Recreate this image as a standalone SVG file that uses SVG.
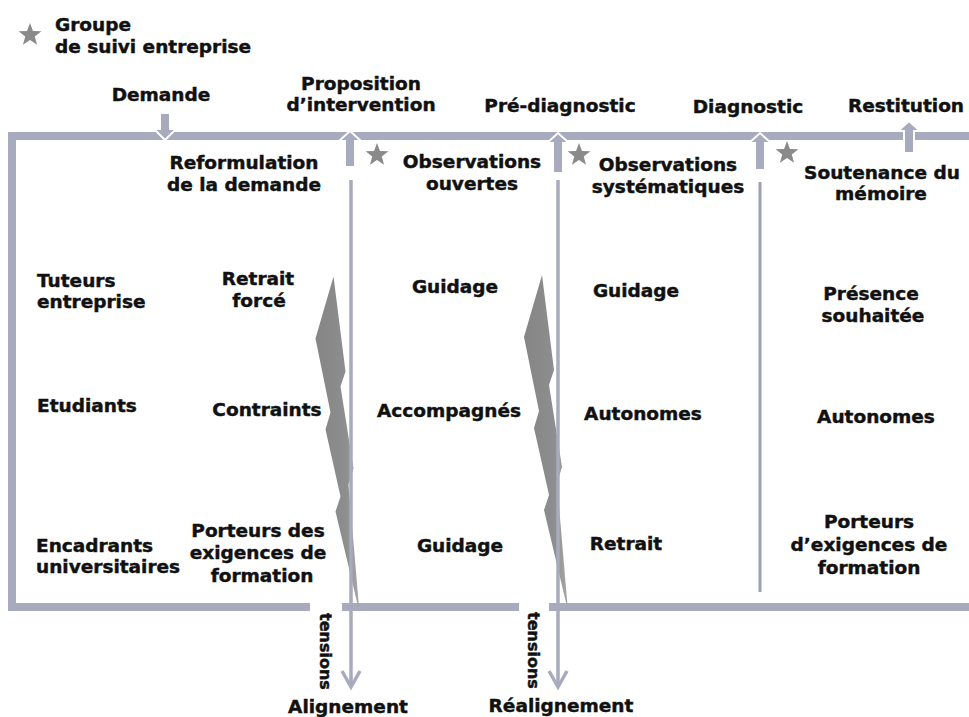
<svg xmlns="http://www.w3.org/2000/svg" xmlns:xlink="http://www.w3.org/1999/xlink" width="969" height="717" viewBox="0 0 969 717">
<style>
  text { font-family: "DejaVu Sans", "Liberation Sans", sans-serif; font-weight: bold; font-size: 18.5px; fill: #111; stroke: #111; stroke-width: 0.45px; }
  .m { text-anchor: middle; }
  .vt { font-size: 16px; }
  .band { fill: #a8aabe; }
  .blk { fill: #a8aabe; stroke: #ffffff; stroke-width: 2; stroke-linejoin: miter; }
  .thin { stroke: #a8aabe; stroke-width: 3.5; fill: none; }
  .chev { stroke: #a8aabe; stroke-width: 3.5; fill: none; stroke-linejoin: miter; }
  .star { fill: #8a8a8a; }
  .bolt { fill: url(#boltGrad); }
</style>
<defs>
  <path id="starShape" d="M0,-12 L2.94,-4.05 L11.41,-3.71 L4.76,1.55 L7.05,9.71 L0,5 L-7.05,9.71 L-4.76,1.55 L-11.41,-3.71 L-2.94,-4.05 Z"/>
  <linearGradient id="boltGrad" x1="0" y1="0" x2="1" y2="0">
    <stop offset="0" stop-color="#858585"/>
    <stop offset="0.7" stop-color="#8e8e8e"/>
    <stop offset="1" stop-color="#a9a9a9"/>
  </linearGradient>
  <polygon id="boltShape" points="542,275 554,370 549,385 562,467 557,483 568,611 544,510 549,495 534,428 539,411 524,337"/>
</defs>
<rect width="969" height="717" fill="#ffffff"/>

<g id="legend">
  <use href="#starShape" xlink:href="#starShape" class="star" transform="translate(30,35)"/>
  <text x="55" y="31">Groupe</text>
  <text x="55" y="53">de suivi entreprise</text>
</g>

<g id="frame">
  <rect class="band" x="8" y="132" width="961" height="8"/>
  <rect class="band" x="8" y="132" width="8" height="479"/>
  <rect class="band" x="8" y="603" width="302" height="8"/>
  <rect class="band" x="342" y="603" width="177" height="8"/>
  <rect class="band" x="549" y="603" width="420" height="8"/>
</g>

<g id="bolts">
  <use href="#boltShape" xlink:href="#boltShape" class="bolt" transform="translate(-208.5,1.5)"/>
  <use href="#boltShape" xlink:href="#boltShape" class="bolt"/>
</g>

<g id="connectors">
  <path id="arr-demande" class="blk" d="M160,113 L170,113 L170,129 L176,129 L165,140 L154,129 L160,129 Z"/>
  <path id="arr-proposition" class="blk" d="M350,131 L361,141 L355,141 L355,167 L345,167 L345,141 L339,141 Z"/>
  <path id="arr-prediag" class="blk" d="M558,133 L569,143 L563,143 L563,173 L553,173 L553,143 L547,143 Z"/>
  <path id="arr-diag" class="blk" d="M760,133 L771,143 L765,143 L765,170 L755,170 L755,143 L749,143 Z"/>
  <path id="arr-restitution" class="blk" d="M909,121 L920,131 L914,131 L914,153 L904,153 L904,131 L898,131 Z"/>
  <line class="thin" x1="351" y1="180" x2="351" y2="686"/>
  <polyline class="chev" points="342,671 351,687 360,671"/>
  <line class="thin" x1="558" y1="180" x2="558" y2="686"/>
  <polyline class="chev" points="549,671 558,687 567,671"/>
  <line class="thin" x1="760" y1="182" x2="760" y2="592" style="stroke:#9fa0ae;stroke-width:3"/>
</g>

<g id="stars">
  <use href="#starShape" xlink:href="#starShape" class="star" transform="translate(377,155)"/>
  <use href="#starShape" xlink:href="#starShape" class="star" transform="translate(579,155)"/>
  <use href="#starShape" xlink:href="#starShape" class="star" transform="translate(787,153)"/>
</g>

<g id="phases">
  <text class="m" x="161" y="101">Demande</text>
  <text class="m" x="361" y="90">Proposition</text>
  <text class="m" x="361" y="111">d’intervention</text>
  <text class="m" x="560" y="112">Pré-diagnostic</text>
  <text class="m" x="748" y="113">Diagnostic</text>
  <text class="m" x="906" y="112">Restitution</text>
</g>

<g id="steps">
  <text class="m" x="244" y="169">Reformulation</text>
  <text class="m" x="244" y="191">de la demande</text>
  <text class="m" x="472" y="168">Observations</text>
  <text class="m" x="472" y="190">ouvertes</text>
  <text class="m" x="668" y="171">Observations</text>
  <text class="m" x="668" y="193">systématiques</text>
  <text class="m" x="882" y="179">Soutenance du</text>
  <text class="m" x="881" y="200">mémoire</text>
</g>

<g id="actors">
  <text x="37" y="287">Tuteurs</text>
  <text x="37" y="308">entreprise</text>
  <text x="37" y="412">Etudiants</text>
  <text x="36" y="552">Encadrants</text>
  <text x="36" y="573">universitaires</text>
</g>

<g id="col1">
  <text class="m" x="258" y="285">Retrait</text>
  <text class="m" x="259" y="307">forcé</text>
  <text class="m" x="267" y="416">Contraints</text>
  <text class="m" x="258" y="537">Porteurs des</text>
  <text class="m" x="258" y="559">exigences de</text>
  <text class="m" x="262" y="582">formation</text>
</g>

<g id="col2">
  <text class="m" x="455" y="293">Guidage</text>
  <text class="m" x="449" y="417">Accompagnés</text>
  <text class="m" x="460" y="552">Guidage</text>
</g>

<g id="col3">
  <text class="m" x="636" y="297">Guidage</text>
  <text class="m" x="643" y="420">Autonomes</text>
  <text class="m" x="626" y="550">Retrait</text>
</g>

<g id="col4">
  <text class="m" x="871" y="300">Présence</text>
  <text class="m" x="873" y="322">souhaitée</text>
  <text class="m" x="876" y="423">Autonomes</text>
  <text class="m" x="869" y="528">Porteurs</text>
  <text class="m" x="869" y="551">d’exigences de</text>
  <text class="m" x="869" y="574">formation</text>
</g>

<g id="outcomes">
  <text class="vt" transform="translate(320,613) rotate(90)">tensions</text>
  <text class="vt" transform="translate(528,612) rotate(90)">tensions</text>
  <text class="m" x="348" y="713">Alignement</text>
  <text class="m" x="561" y="712">Réalignement</text>
</g>
</svg>
